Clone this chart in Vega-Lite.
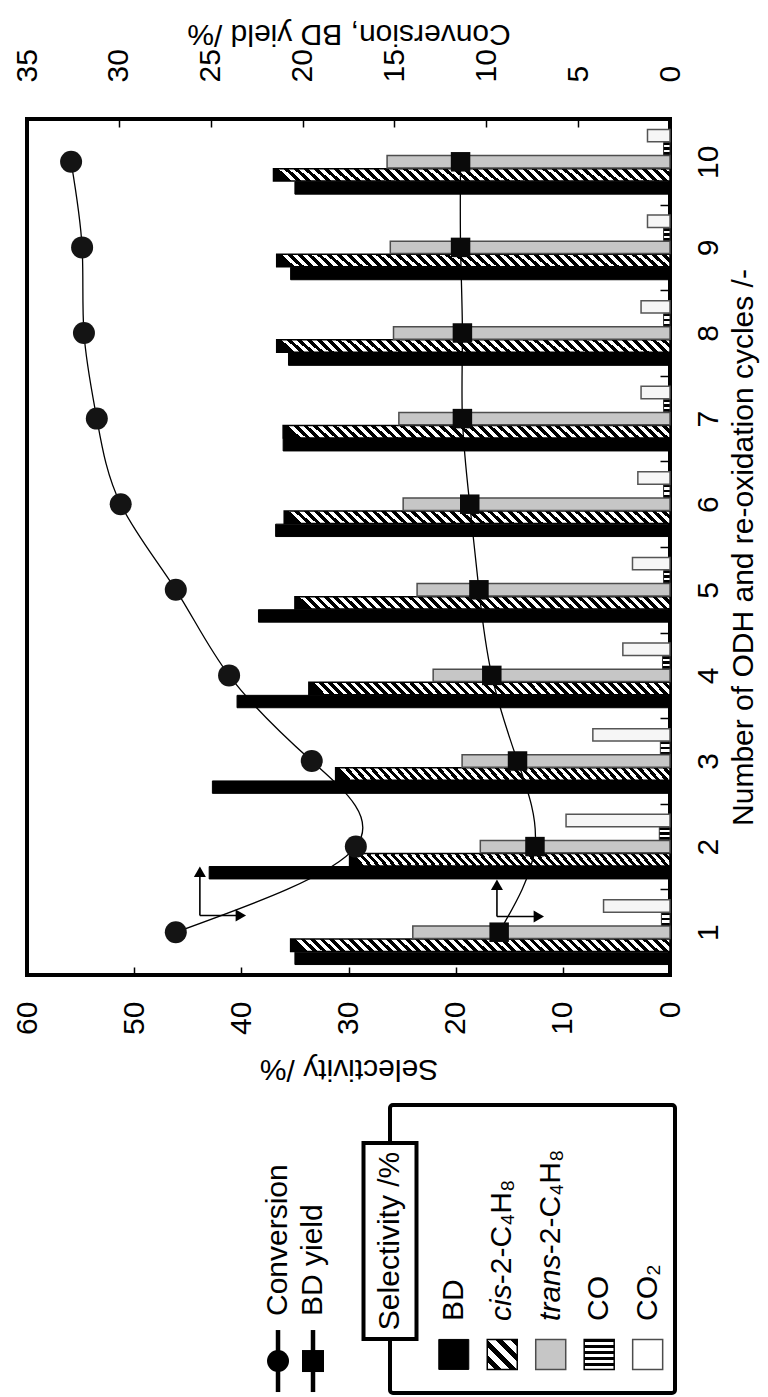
{
  "$schema": "https://vega.github.io/schema/vega-lite/v6.json",
  "padding": {"left": 9, "top": 16, "right": 2, "bottom": 0},
  "config": {
    "font": "Liberation Sans",
    "axis": {"labelFont": "Liberation Sans", "titleFont": "Liberation Sans", "labelFontSize": 30, "titleFontSize": 30, "titleFontWeight": "normal", "labelColor": "#000", "titleColor": "#000", "tickColor": "#000", "tickWidth": 1.5, "domain": false, "grid": false, "labelOverlap": false, "labelFlush": false},
    "text": {"font": "Liberation Sans", "fontSize": 30, "color": "#000"}
  },
  "datasets": {
    "selectivity": [
      {"cycle": 1, "species": "BD", "selectivity": 35.0}, {"cycle": 1, "species": "cis-2-C4H8", "selectivity": 35.4}, {"cycle": 1, "species": "trans-2-C4H8", "selectivity": 24.0}, {"cycle": 1, "species": "CO", "selectivity": 0.8}, {"cycle": 1, "species": "CO2", "selectivity": 6.2},
      {"cycle": 2, "species": "BD", "selectivity": 43.0}, {"cycle": 2, "species": "cis-2-C4H8", "selectivity": 29.9}, {"cycle": 2, "species": "trans-2-C4H8", "selectivity": 17.7}, {"cycle": 2, "species": "CO", "selectivity": 1.0}, {"cycle": 2, "species": "CO2", "selectivity": 9.7},
      {"cycle": 3, "species": "BD", "selectivity": 42.7}, {"cycle": 3, "species": "cis-2-C4H8", "selectivity": 31.2}, {"cycle": 3, "species": "trans-2-C4H8", "selectivity": 19.4}, {"cycle": 3, "species": "CO", "selectivity": 0.9}, {"cycle": 3, "species": "CO2", "selectivity": 7.2},
      {"cycle": 4, "species": "BD", "selectivity": 40.4}, {"cycle": 4, "species": "cis-2-C4H8", "selectivity": 33.7}, {"cycle": 4, "species": "trans-2-C4H8", "selectivity": 22.1}, {"cycle": 4, "species": "CO", "selectivity": 0.7}, {"cycle": 4, "species": "CO2", "selectivity": 4.4},
      {"cycle": 5, "species": "BD", "selectivity": 38.4}, {"cycle": 5, "species": "cis-2-C4H8", "selectivity": 35.0}, {"cycle": 5, "species": "trans-2-C4H8", "selectivity": 23.6}, {"cycle": 5, "species": "CO", "selectivity": 0.6}, {"cycle": 5, "species": "CO2", "selectivity": 3.5},
      {"cycle": 6, "species": "BD", "selectivity": 36.8}, {"cycle": 6, "species": "cis-2-C4H8", "selectivity": 36.0}, {"cycle": 6, "species": "trans-2-C4H8", "selectivity": 24.9}, {"cycle": 6, "species": "CO", "selectivity": 0.6}, {"cycle": 6, "species": "CO2", "selectivity": 3.0},
      {"cycle": 7, "species": "BD", "selectivity": 36.1}, {"cycle": 7, "species": "cis-2-C4H8", "selectivity": 36.1}, {"cycle": 7, "species": "trans-2-C4H8", "selectivity": 25.3}, {"cycle": 7, "species": "CO", "selectivity": 0.6}, {"cycle": 7, "species": "CO2", "selectivity": 2.7},
      {"cycle": 8, "species": "BD", "selectivity": 35.6}, {"cycle": 8, "species": "cis-2-C4H8", "selectivity": 36.7}, {"cycle": 8, "species": "trans-2-C4H8", "selectivity": 25.8}, {"cycle": 8, "species": "CO", "selectivity": 0.6}, {"cycle": 8, "species": "CO2", "selectivity": 2.7},
      {"cycle": 9, "species": "BD", "selectivity": 35.4}, {"cycle": 9, "species": "cis-2-C4H8", "selectivity": 36.7}, {"cycle": 9, "species": "trans-2-C4H8", "selectivity": 26.1}, {"cycle": 9, "species": "CO", "selectivity": 0.6}, {"cycle": 9, "species": "CO2", "selectivity": 2.1},
      {"cycle": 10, "species": "BD", "selectivity": 35.0}, {"cycle": 10, "species": "cis-2-C4H8", "selectivity": 37.0}, {"cycle": 10, "species": "trans-2-C4H8", "selectivity": 26.4}, {"cycle": 10, "species": "CO", "selectivity": 0.6}, {"cycle": 10, "species": "CO2", "selectivity": 2.1}
    ],
    "performance": [
      {"cycle": 1, "conversion": 26.9, "bd_yield": 9.3},
      {"cycle": 2, "conversion": 17.1, "bd_yield": 7.35},
      {"cycle": 3, "conversion": 19.5, "bd_yield": 8.3},
      {"cycle": 4, "conversion": 24.0, "bd_yield": 9.7},
      {"cycle": 5, "conversion": 26.9, "bd_yield": 10.4},
      {"cycle": 6, "conversion": 29.9, "bd_yield": 10.9},
      {"cycle": 7, "conversion": 31.2, "bd_yield": 11.3},
      {"cycle": 8, "conversion": 31.9, "bd_yield": 11.3},
      {"cycle": 9, "conversion": 32.0, "bd_yield": 11.4},
      {"cycle": 10, "conversion": 32.6, "bd_yield": 11.4}
    ],
    "arrow_arms": [
      {"value": 25.59, "value_end": 25.59, "cycle": 1.195, "cycle_end": 1.707},
      {"value": 25.59, "value_end": 23.36, "cycle": 1.195, "cycle_end": 1.195},
      {"value": 9.42, "value_end": 9.42, "cycle": 1.183, "cycle_end": 1.555},
      {"value": 9.42, "value_end": 7.14, "cycle": 1.183, "cycle_end": 1.183}
    ],
    "arrow_heads": [
      {"value": 25.59, "cycle": 1.707, "head": "up"},
      {"value": 23.36, "cycle": 1.195, "head": "right"},
      {"value": 9.42, "cycle": 1.555, "head": "up"},
      {"value": 7.14, "cycle": 1.183, "head": "right"}
    ],
    "key_lines": [{"item": "Conversion"}, {"item": "BD yield"}],
    "key_title": [{"label": "Selectivity /%"}],
    "key_products": [
      {"key": "BD", "name": "BD"},
      {"key": "cis", "name": "cis", "suffix": "-2-C₄H₈"},
      {"key": "trans", "name": "trans", "suffix": "-2-C₄H₈"},
      {"key": "CO", "name": "CO"},
      {"key": "CO2", "name": "CO₂"}
    ]
  },
  "bounds": "flush",
  "spacing": 130,
  "vconcat": [
    {
      "width": 643,
      "height": 856,
      "view": {"stroke": "#000", "strokeWidth": 4},
      "layer": [
        {
          "data": {"name": "selectivity"},
          "encoding": {
            "y": {"field": "cycle", "type": "ordinal", "sort": "descending",
                  "scale": {"paddingInner": 0, "paddingOuter": 0},
                  "axis": {"orient": "right", "title": "Number of ODH and re-oxidation cycles /-", "labelAngle": 270, "labelAlign": "center", "labelBaseline": "top", "labelPadding": 33, "tickSize": -10, "tickBand": "extent", "titleAngle": 270, "titleBaseline": "top", "titlePadding": 5}},
            "x": {"field": "selectivity", "type": "quantitative",
                  "scale": {"domain": [0, 60], "reverse": true, "nice": false},
                  "axis": {"orient": "bottom", "values": [0, 10, 20, 30, 40, 50, 60], "title": "Selectivity /%", "labelAngle": 270, "labelAlign": "right", "labelBaseline": "middle", "labelPadding": 34, "tickSize": -8, "titleAngle": 180, "titleBaseline": "bottom", "titlePadding": 19}},
            "yOffset": {"field": "species", "type": "nominal", "scale": {"domain": ["CO2", "CO", "trans-2-C4H8", "cis-2-C4H8", "BD"], "paddingInner": 0.05, "paddingOuter": 0.8}}
          },
          "layer": [
            {"transform": [{"filter": "datum.species === 'BD'"}], "mark": {"type": "bar", "fill": "#000", "stroke": "#000", "strokeWidth": 1}},
            {"transform": [{"filter": "datum.species === 'cis-2-C4H8'"}], "mark": {"type": "bar", "stroke": "#000", "strokeWidth": 1.5,
              "fill": {"gradient": "linear", "x1": 0, "y1": 0, "x2": 1, "y2": -0.034, "stops": [
                {"offset": 0, "color": "#000"}, {"offset": 0.0125, "color": "#000"}, {"offset": 0.0125, "color": "#fff"}, {"offset": 0.025, "color": "#fff"},
                {"offset": 0.025, "color": "#000"}, {"offset": 0.0375, "color": "#000"}, {"offset": 0.0375, "color": "#fff"}, {"offset": 0.05, "color": "#fff"},
                {"offset": 0.05, "color": "#000"}, {"offset": 0.0625, "color": "#000"}, {"offset": 0.0625, "color": "#fff"}, {"offset": 0.075, "color": "#fff"},
                {"offset": 0.075, "color": "#000"}, {"offset": 0.0875, "color": "#000"}, {"offset": 0.0875, "color": "#fff"}, {"offset": 0.1, "color": "#fff"},
                {"offset": 0.1, "color": "#000"}, {"offset": 0.1125, "color": "#000"}, {"offset": 0.1125, "color": "#fff"}, {"offset": 0.125, "color": "#fff"},
                {"offset": 0.125, "color": "#000"}, {"offset": 0.1375, "color": "#000"}, {"offset": 0.1375, "color": "#fff"}, {"offset": 0.15, "color": "#fff"},
                {"offset": 0.15, "color": "#000"}, {"offset": 0.1625, "color": "#000"}, {"offset": 0.1625, "color": "#fff"}, {"offset": 0.175, "color": "#fff"},
                {"offset": 0.175, "color": "#000"}, {"offset": 0.1875, "color": "#000"}, {"offset": 0.1875, "color": "#fff"}, {"offset": 0.2, "color": "#fff"},
                {"offset": 0.2, "color": "#000"}, {"offset": 0.2125, "color": "#000"}, {"offset": 0.2125, "color": "#fff"}, {"offset": 0.225, "color": "#fff"},
                {"offset": 0.225, "color": "#000"}, {"offset": 0.2375, "color": "#000"}, {"offset": 0.2375, "color": "#fff"}, {"offset": 0.25, "color": "#fff"},
                {"offset": 0.25, "color": "#000"}, {"offset": 0.2625, "color": "#000"}, {"offset": 0.2625, "color": "#fff"}, {"offset": 0.275, "color": "#fff"},
                {"offset": 0.275, "color": "#000"}, {"offset": 0.2875, "color": "#000"}, {"offset": 0.2875, "color": "#fff"}, {"offset": 0.3, "color": "#fff"},
                {"offset": 0.3, "color": "#000"}, {"offset": 0.3125, "color": "#000"}, {"offset": 0.3125, "color": "#fff"}, {"offset": 0.325, "color": "#fff"},
                {"offset": 0.325, "color": "#000"}, {"offset": 0.3375, "color": "#000"}, {"offset": 0.3375, "color": "#fff"}, {"offset": 0.35, "color": "#fff"},
                {"offset": 0.35, "color": "#000"}, {"offset": 0.3625, "color": "#000"}, {"offset": 0.3625, "color": "#fff"}, {"offset": 0.375, "color": "#fff"},
                {"offset": 0.375, "color": "#000"}, {"offset": 0.3875, "color": "#000"}, {"offset": 0.3875, "color": "#fff"}, {"offset": 0.4, "color": "#fff"},
                {"offset": 0.4, "color": "#000"}, {"offset": 0.4125, "color": "#000"}, {"offset": 0.4125, "color": "#fff"}, {"offset": 0.425, "color": "#fff"},
                {"offset": 0.425, "color": "#000"}, {"offset": 0.4375, "color": "#000"}, {"offset": 0.4375, "color": "#fff"}, {"offset": 0.45, "color": "#fff"},
                {"offset": 0.45, "color": "#000"}, {"offset": 0.4625, "color": "#000"}, {"offset": 0.4625, "color": "#fff"}, {"offset": 0.475, "color": "#fff"},
                {"offset": 0.475, "color": "#000"}, {"offset": 0.4875, "color": "#000"}, {"offset": 0.4875, "color": "#fff"}, {"offset": 0.5, "color": "#fff"},
                {"offset": 0.5, "color": "#000"}, {"offset": 0.5125, "color": "#000"}, {"offset": 0.5125, "color": "#fff"}, {"offset": 0.525, "color": "#fff"},
                {"offset": 0.525, "color": "#000"}, {"offset": 0.5375, "color": "#000"}, {"offset": 0.5375, "color": "#fff"}, {"offset": 0.55, "color": "#fff"},
                {"offset": 0.55, "color": "#000"}, {"offset": 0.5625, "color": "#000"}, {"offset": 0.5625, "color": "#fff"}, {"offset": 0.575, "color": "#fff"},
                {"offset": 0.575, "color": "#000"}, {"offset": 0.5875, "color": "#000"}, {"offset": 0.5875, "color": "#fff"}, {"offset": 0.6, "color": "#fff"},
                {"offset": 0.6, "color": "#000"}, {"offset": 0.6125, "color": "#000"}, {"offset": 0.6125, "color": "#fff"}, {"offset": 0.625, "color": "#fff"},
                {"offset": 0.625, "color": "#000"}, {"offset": 0.6375, "color": "#000"}, {"offset": 0.6375, "color": "#fff"}, {"offset": 0.65, "color": "#fff"},
                {"offset": 0.65, "color": "#000"}, {"offset": 0.6625, "color": "#000"}, {"offset": 0.6625, "color": "#fff"}, {"offset": 0.675, "color": "#fff"},
                {"offset": 0.675, "color": "#000"}, {"offset": 0.6875, "color": "#000"}, {"offset": 0.6875, "color": "#fff"}, {"offset": 0.7, "color": "#fff"},
                {"offset": 0.7, "color": "#000"}, {"offset": 0.7125, "color": "#000"}, {"offset": 0.7125, "color": "#fff"}, {"offset": 0.725, "color": "#fff"},
                {"offset": 0.725, "color": "#000"}, {"offset": 0.7375, "color": "#000"}, {"offset": 0.7375, "color": "#fff"}, {"offset": 0.75, "color": "#fff"},
                {"offset": 0.75, "color": "#000"}, {"offset": 0.7625, "color": "#000"}, {"offset": 0.7625, "color": "#fff"}, {"offset": 0.775, "color": "#fff"},
                {"offset": 0.775, "color": "#000"}, {"offset": 0.7875, "color": "#000"}, {"offset": 0.7875, "color": "#fff"}, {"offset": 0.8, "color": "#fff"},
                {"offset": 0.8, "color": "#000"}, {"offset": 0.8125, "color": "#000"}, {"offset": 0.8125, "color": "#fff"}, {"offset": 0.825, "color": "#fff"},
                {"offset": 0.825, "color": "#000"}, {"offset": 0.8375, "color": "#000"}, {"offset": 0.8375, "color": "#fff"}, {"offset": 0.85, "color": "#fff"},
                {"offset": 0.85, "color": "#000"}, {"offset": 0.8625, "color": "#000"}, {"offset": 0.8625, "color": "#fff"}, {"offset": 0.875, "color": "#fff"},
                {"offset": 0.875, "color": "#000"}, {"offset": 0.8875, "color": "#000"}, {"offset": 0.8875, "color": "#fff"}, {"offset": 0.9, "color": "#fff"},
                {"offset": 0.9, "color": "#000"}, {"offset": 0.9125, "color": "#000"}, {"offset": 0.9125, "color": "#fff"}, {"offset": 0.925, "color": "#fff"},
                {"offset": 0.925, "color": "#000"}, {"offset": 0.9375, "color": "#000"}, {"offset": 0.9375, "color": "#fff"}, {"offset": 0.95, "color": "#fff"},
                {"offset": 0.95, "color": "#000"}, {"offset": 0.9625, "color": "#000"}, {"offset": 0.9625, "color": "#fff"}, {"offset": 0.975, "color": "#fff"},
                {"offset": 0.975, "color": "#000"}, {"offset": 0.9875, "color": "#000"}, {"offset": 0.9875, "color": "#fff"}, {"offset": 1, "color": "#fff"}
              ]}}},
            {"transform": [{"filter": "datum.species === 'trans-2-C4H8'"}], "mark": {"type": "bar", "fill": "#c6c6c6", "stroke": "#4d4d4d", "strokeWidth": 1.5}},
            {"transform": [{"filter": "datum.species === 'CO'"}], "mark": {"type": "bar", "stroke": "#333", "strokeWidth": 1,
              "fill": {"gradient": "linear", "x1": 0, "y1": 0, "x2": 0, "y2": 1, "stops": [
                {"offset": 0, "color": "#000"}, {"offset": 0.2, "color": "#000"}, {"offset": 0.2, "color": "#fff"}, {"offset": 0.4, "color": "#fff"},
                {"offset": 0.4, "color": "#000"}, {"offset": 0.6, "color": "#000"}, {"offset": 0.6, "color": "#fff"}, {"offset": 0.8, "color": "#fff"},
                {"offset": 0.8, "color": "#000"}, {"offset": 1, "color": "#000"}
              ]}}},
            {"transform": [{"filter": "datum.species === 'CO2'"}], "mark": {"type": "bar", "fill": "#f6f6f6", "stroke": "#555", "strokeWidth": 1.5}}
          ]
        },
        {
          "encoding": {
            "y": {"field": "cycle", "type": "quantitative", "scale": {"domain": [0.5, 10.5], "nice": false, "zero": false}, "axis": null},
            "x": {"field": "value", "type": "quantitative",
                  "scale": {"domain": [0, 35], "reverse": true, "nice": false},
                  "axis": {"orient": "top", "values": [0, 5, 10, 15, 20, 25, 30, 35], "title": "Conversion, BD yield /%", "labelAngle": 270, "labelAlign": "left", "labelBaseline": "middle", "labelPadding": 45, "tickSize": -8, "titleAngle": 180, "titleBaseline": "top", "titlePadding": 0}}
          },
          "layer": [
            {
              "data": {"name": "performance"},
              "transform": [{"fold": ["conversion", "bd_yield"], "as": ["measure", "value"]}],
              "layer": [
                {"mark": {"type": "line", "interpolate": "natural", "stroke": "#000", "strokeWidth": 1.3},
                 "encoding": {"detail": {"field": "measure", "type": "nominal"}, "order": {"field": "cycle", "type": "quantitative"}}},
                {"transform": [{"filter": "datum.measure === 'conversion'"}], "mark": {"type": "point", "shape": "circle", "filled": true, "size": 484, "fill": "#141414", "opacity": 1, "strokeWidth": 0}},
                {"transform": [{"filter": "datum.measure === 'bd_yield'"}], "mark": {"type": "point", "shape": "square", "filled": true, "size": 380, "fill": "#0a0a0a", "opacity": 1, "strokeWidth": 0}}
              ]
            },
            {"data": {"name": "arrow_arms"}, "mark": {"type": "rule", "stroke": "#000", "strokeWidth": 1.6},
             "encoding": {"x2": {"field": "value_end"}, "y2": {"field": "cycle_end"}}},
            {"data": {"name": "arrow_heads"}, "transform": [{"filter": "datum.head === 'up'"}], "mark": {"type": "point", "shape": "triangle-up", "filled": true, "size": 144, "fill": "#000", "opacity": 1, "strokeWidth": 0}},
            {"data": {"name": "arrow_heads"}, "transform": [{"filter": "datum.head === 'right'"}], "mark": {"type": "point", "shape": "triangle-right", "filled": true, "size": 144, "fill": "#000", "opacity": 1, "strokeWidth": 0}}
          ]
        }
      ],
      "resolve": {"scale": {"x": "independent", "y": "independent"}, "axis": {"x": "independent", "y": "independent"}}
    },
    {
      "bounds": "flush",
      "spacing": 59,
      "hconcat": [
        {
          "width": 304,
          "height": 288,
          "view": {"stroke": null},
          "data": {"name": "key_lines"},
          "encoding": {
            "y": {"datum": "marker", "type": "nominal", "scale": {"type": "point", "domain": ["marker"], "padding": 0, "align": 0.889}, "axis": null}
          },
          "layer": [
            {
              "transform": [{"filter": "datum.item === 'Conversion'"}],
              "encoding": {"x": {"field": "item", "type": "nominal", "scale": {"type": "point", "padding": 0, "align": 0.8257}, "axis": null}},
              "layer": [
                {"mark": {"type": "point", "shape": "stroke", "angle": 90, "size": 3844, "filled": false, "stroke": "#000", "strokeWidth": 4.5, "opacity": 1}},
                {"mark": {"type": "point", "shape": "circle", "filled": true, "size": 484, "fill": "#000", "opacity": 1, "strokeWidth": 0}},
                {"mark": {"type": "text", "angle": 270, "align": "left", "baseline": "middle", "dx": 45, "fontSize": 30}, "encoding": {"text": {"field": "item"}}}
              ]
            },
            {
              "transform": [{"filter": "datum.item === 'BD yield'"}],
              "encoding": {"x": {"field": "item", "type": "nominal", "scale": {"type": "point", "padding": 0, "align": 0.9408}, "axis": null}},
              "layer": [
                {"mark": {"type": "point", "shape": "stroke", "angle": 90, "size": 3844, "filled": false, "stroke": "#000", "strokeWidth": 4.5, "opacity": 1}},
                {"mark": {"type": "point", "shape": "square", "filled": true, "size": 484, "fill": "#000", "opacity": 1, "strokeWidth": 0}},
                {"mark": {"type": "text", "angle": 270, "align": "left", "baseline": "middle", "dx": 45, "fontSize": 30}, "encoding": {"text": {"field": "item"}}}
              ]
            }
          ],
          "resolve": {"scale": {"x": "independent"}}
        },
        {
          "width": 285,
          "height": 288,
          "view": {"stroke": "#000", "strokeWidth": 4, "cornerRadius": 3},
          "layer": [
            {
              "data": {"name": "key_title"},
              "encoding": {
                "x": {"field": "label", "type": "nominal", "scale": {"type": "point", "padding": 0, "align": 0}, "axis": null},
                "y": {"datum": "title", "type": "nominal", "scale": {"type": "point", "domain": ["title", "swatch"], "padding": 0.769, "align": 0.779}, "axis": null}
              },
              "layer": [
                {"mark": {"type": "point", "shape": "M-0.2704,-1H0.2704V1H-0.2704Z", "size": 38416, "filled": true, "fill": "#fff", "stroke": "#000", "strokeWidth": 4, "opacity": 1}},
                {"mark": {"type": "text", "angle": 270, "align": "center", "baseline": "middle", "fontSize": 30}, "encoding": {"text": {"field": "label"}}}
              ]
            },
            {
              "data": {"name": "key_products"},
              "encoding": {
                "x": {"field": "key", "type": "nominal", "scale": {"type": "point", "domain": ["BD", "cis", "trans", "CO", "CO2"], "padding": 0.94, "align": 0.7}, "axis": null},
                "y": {"datum": "swatch", "type": "nominal", "scale": {"type": "point", "domain": ["title", "swatch"], "padding": 0.769, "align": 0.779}, "axis": null}
              },
              "layer": [
                {"transform": [{"filter": "datum.key === 'BD'"}], "mark": {"type": "point", "shape": "square", "size": 900, "filled": true, "fill": "#000", "stroke": "#000", "strokeWidth": 1, "opacity": 1}},
                {"transform": [{"filter": "datum.key === 'cis'"}], "mark": {"type": "point", "shape": "square", "size": 900, "filled": true, "stroke": "#000", "strokeWidth": 1.5, "opacity": 1,
                  "fill": {"gradient": "linear", "x1": 0, "y1": 1, "x2": 1, "y2": 0, "stops": [
                    {"offset": 0, "color": "#fff"}, {"offset": 0.125, "color": "#fff"}, {"offset": 0.125, "color": "#000"}, {"offset": 0.25, "color": "#000"},
                    {"offset": 0.25, "color": "#fff"}, {"offset": 0.375, "color": "#fff"}, {"offset": 0.375, "color": "#000"}, {"offset": 0.5, "color": "#000"},
                    {"offset": 0.5, "color": "#fff"}, {"offset": 0.625, "color": "#fff"}, {"offset": 0.625, "color": "#000"}, {"offset": 0.75, "color": "#000"},
                    {"offset": 0.75, "color": "#fff"}, {"offset": 0.875, "color": "#fff"}, {"offset": 0.875, "color": "#000"}, {"offset": 1, "color": "#000"}
                  ]}}},
                {"transform": [{"filter": "datum.key === 'trans'"}], "mark": {"type": "point", "shape": "square", "size": 900, "filled": true, "fill": "#c6c6c6", "stroke": "#4d4d4d", "strokeWidth": 1.5, "opacity": 1}},
                {"transform": [{"filter": "datum.key === 'CO'"}], "mark": {"type": "point", "shape": "square", "size": 900, "filled": true, "stroke": "#000", "strokeWidth": 1.5, "opacity": 1,
                  "fill": {"gradient": "linear", "x1": 0, "y1": 0, "x2": 0, "y2": 1, "stops": [
                    {"offset": 0, "color": "#000"}, {"offset": 0.1, "color": "#000"}, {"offset": 0.1, "color": "#fff"}, {"offset": 0.2, "color": "#fff"},
                    {"offset": 0.2, "color": "#000"}, {"offset": 0.3, "color": "#000"}, {"offset": 0.3, "color": "#fff"}, {"offset": 0.4, "color": "#fff"},
                    {"offset": 0.4, "color": "#000"}, {"offset": 0.5, "color": "#000"}, {"offset": 0.5, "color": "#fff"}, {"offset": 0.6, "color": "#fff"},
                    {"offset": 0.6, "color": "#000"}, {"offset": 0.7, "color": "#000"}, {"offset": 0.7, "color": "#fff"}, {"offset": 0.8, "color": "#fff"},
                    {"offset": 0.8, "color": "#000"}, {"offset": 0.9, "color": "#000"}, {"offset": 0.9, "color": "#fff"}, {"offset": 1, "color": "#fff"}
                  ]}}},
                {"transform": [{"filter": "datum.key === 'CO2'"}], "mark": {"type": "point", "shape": "square", "size": 900, "filled": true, "fill": "#fff", "stroke": "#4d4d4d", "strokeWidth": 1.5, "opacity": 1}},
                {"transform": [{"filter": "datum.key === 'BD' || datum.key === 'CO' || datum.key === 'CO2'"}], "mark": {"type": "text", "angle": 270, "align": "left", "baseline": "middle", "dx": 33.5, "fontSize": 30}, "encoding": {"text": {"field": "name"}}},
                {"transform": [{"filter": "datum.key === 'cis' || datum.key === 'trans'"}], "mark": {"type": "text", "angle": 270, "align": "left", "baseline": "middle", "dx": 33.5, "fontSize": 30, "fontStyle": "italic"}, "encoding": {"text": {"field": "name"}}},
                {"transform": [{"filter": "datum.key === 'cis'"}], "mark": {"type": "text", "angle": 270, "align": "left", "baseline": "middle", "dx": 70.2, "fontSize": 30}, "encoding": {"text": {"field": "suffix"}}},
                {"transform": [{"filter": "datum.key === 'trans'"}], "mark": {"type": "text", "angle": 270, "align": "left", "baseline": "middle", "dx": 100.2, "fontSize": 30}, "encoding": {"text": {"field": "suffix"}}}
              ]
            }
          ],
          "resolve": {"scale": {"x": "independent"}}
        }
      ]
    }
  ]
}
